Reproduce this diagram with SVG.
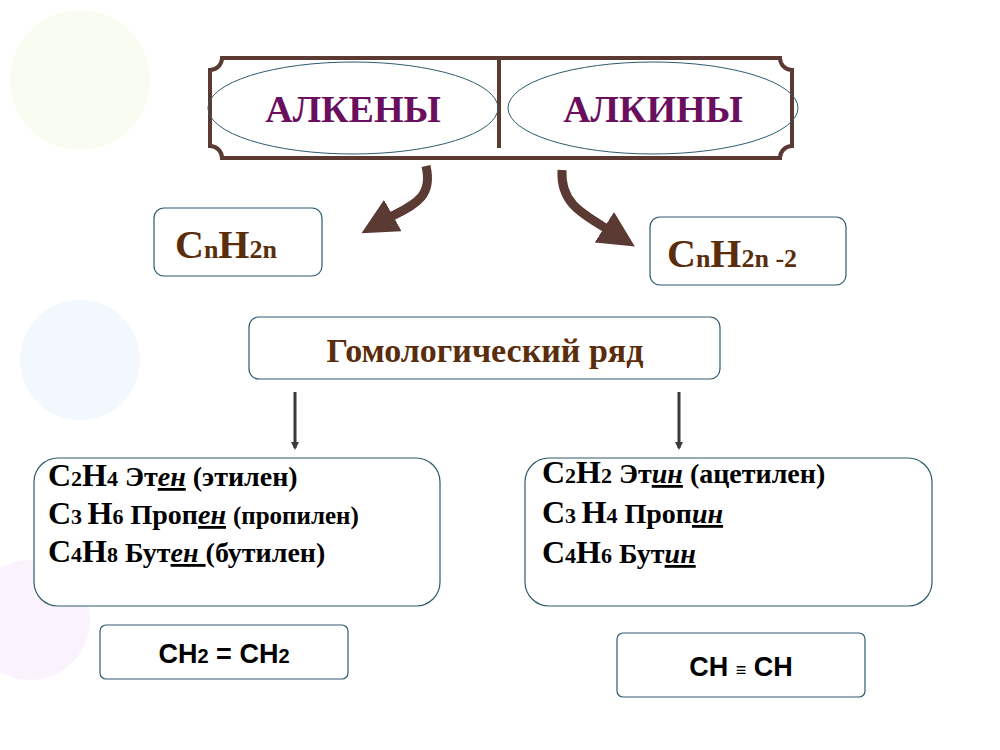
<svg xmlns="http://www.w3.org/2000/svg" width="1000" height="750" viewBox="0 0 1000 750">
<defs>
<style>
.box{fill:#fff;stroke:#2e5b6e;stroke-width:1.2}
text,tspan{font-family:"Liberation Serif","DejaVu Serif",serif}
.t{font-weight:bold;fill:#000}
.b{fill:#5a2d0c;font-weight:bold}
.arr{fill:none;stroke:#5c3a34;stroke-width:9}
.s{font-size:22px}
.w{font-size:28px}
.sans{font-family:"Liberation Sans",sans-serif}
</style>
<marker id="ah" markerWidth="4" markerHeight="4" refX="1" refY="2" orient="auto" markerUnits="strokeWidth"><path d="M0,0 L4,2 L0,4 z" fill="#5c3a34"/></marker>
<marker id="sm" markerWidth="8" markerHeight="8" refX="6" refY="4" orient="auto" markerUnits="userSpaceOnUse"><path d="M0,0 L8,4 L0,8 z" fill="#3a3a3a"/></marker>
</defs>
<rect width="1000" height="750" fill="#fff"/>
<g opacity="0.15">
<circle cx="80" cy="80" r="70" fill="#d8f0a0"/>
<circle cx="80" cy="360" r="60" fill="#a8d0f0"/>
<circle cx="30" cy="620" r="60" fill="#e0b0f0"/>
</g>
<g id="top">
<path d="M222,58 H780 A12,12 0 0 0 792,70 V146 A12,12 0 0 0 780,158 H222 A12,12 0 0 0 210,146 V70 A12,12 0 0 0 222,58 Z" fill="#fff" stroke="#5c3a34" stroke-width="4"/>
<line x1="499" y1="60" x2="499" y2="148" stroke="#5c3a34" stroke-width="4"/>
<ellipse cx="353" cy="108" rx="145" ry="46" fill="none" stroke="#2e5b6e" stroke-width="1"/>
<ellipse cx="653" cy="108" rx="145" ry="46" fill="none" stroke="#2e5b6e" stroke-width="1"/>
<text x="353" y="122" text-anchor="middle" font-weight="bold" font-size="38" fill="#6a0f5e">АЛКЕНЫ</text>
<text x="653" y="122" text-anchor="middle" font-weight="bold" font-size="38" fill="#6a0f5e">АЛКИНЫ</text>
</g>
<g id="f1"><rect class="box" x="154" y="208" width="168" height="68" rx="10"/>
<text class="b" x="175" y="258" font-size="40">C<tspan font-size="26">n</tspan>H<tspan font-size="26">2n</tspan></text></g>
<g id="f2"><rect class="box" x="650" y="217" width="196" height="68" rx="10"/>
<text class="b" x="667" y="267" font-size="40">C<tspan font-size="26">n</tspan>H<tspan font-size="26">2n -2</tspan></text></g>
<g id="hom"><rect class="box" x="249" y="317" width="471" height="62" rx="10"/>
<text class="b" x="485" y="362" text-anchor="middle" font-size="34">Гомологический ряд</text></g>
<g id="l1"><rect class="box" x="34" y="458" width="406" height="148" rx="24"/>
<text class="t" x="48" y="486" font-size="32">C<tspan class="s">2</tspan>H<tspan class="s">4</tspan><tspan class="w"> Эт<tspan font-style="italic" text-decoration="underline">ен</tspan> (этилен)</tspan></text>
<text class="t" x="48" y="524" font-size="32">C<tspan class="s">3 </tspan>H<tspan class="s">6</tspan><tspan class="w"> Проп<tspan font-style="italic" text-decoration="underline">ен</tspan> <tspan font-size="25">(пропилен)</tspan></tspan></text>
<text class="t" x="48" y="562" font-size="32">C<tspan class="s">4</tspan>H<tspan class="s">8</tspan><tspan class="w"> Бут<tspan font-style="italic" text-decoration="underline">ен </tspan>(бутилен)</tspan></text></g>
<g id="l2"><rect class="box" x="525" y="458" width="407" height="148" rx="24"/>
<text class="t" x="542" y="483" font-size="32">C<tspan class="s">2</tspan>H<tspan class="s">2</tspan><tspan class="w"> Эт<tspan font-style="italic" text-decoration="underline">ин</tspan> (ацетилен)</tspan></text>
<text class="t" x="542" y="523" font-size="32">C<tspan class="s">3 </tspan>H<tspan class="s">4</tspan><tspan class="w"> Проп<tspan font-style="italic" text-decoration="underline">ин</tspan></tspan></text>
<text class="t" x="542" y="563" font-size="32">C<tspan class="s">4</tspan>H<tspan class="s">6</tspan><tspan class="w"> Бут<tspan font-style="italic" text-decoration="underline">ин</tspan></tspan></text></g>
<g id="e1"><rect class="box" x="100" y="625" width="248" height="54" rx="6"/>
<text class="sans" x="224" y="663" text-anchor="middle" font-weight="bold" font-size="27">CH<tspan class="sans" font-size="20">2</tspan> = CH<tspan class="sans" font-size="20">2</tspan></text></g>
<g id="e2"><rect class="box" x="617" y="633" width="248" height="64" rx="6"/>
<text class="sans" x="741" y="676" text-anchor="middle" font-weight="bold" font-size="27">CH <tspan class="sans" font-size="18">≡</tspan> CH</text></g>
<g id="connectors">
<path class="arr" d="M426,166 C434,200 410,206 385,220" marker-end="url(#ah)"/>
<path class="arr" d="M562,170 C560,205 585,215 612,232" marker-end="url(#ah)"/>
<line x1="295" y1="392" x2="295" y2="448" stroke="#3a3a3a" stroke-width="3" marker-end="url(#sm)"/>
<line x1="679" y1="392" x2="679" y2="448" stroke="#3a3a3a" stroke-width="3" marker-end="url(#sm)"/>
</g>
</svg>
